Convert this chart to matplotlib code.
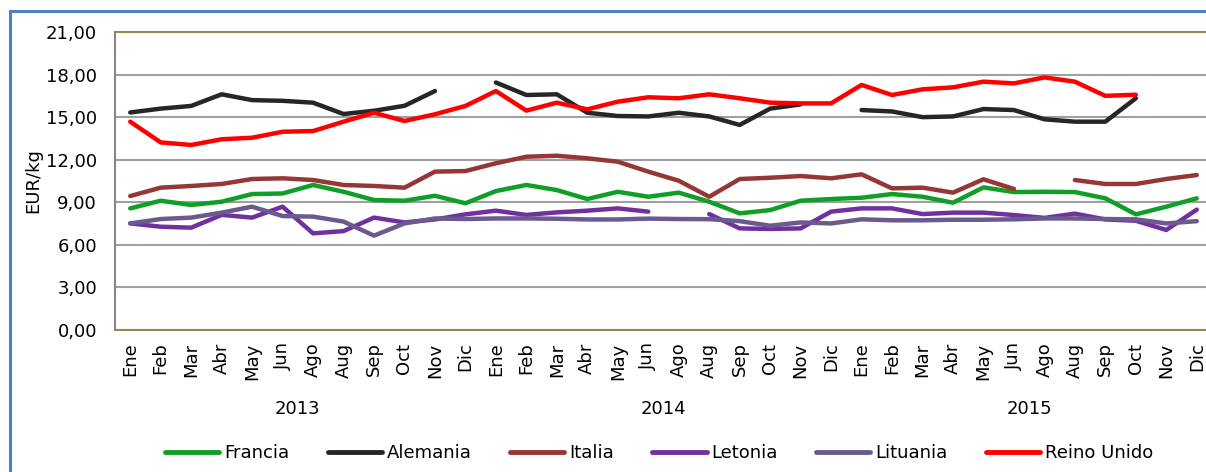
import numpy as np
import matplotlib
matplotlib.use("Agg")
import matplotlib.pyplot as plt
from matplotlib.patches import Rectangle
from matplotlib.transforms import blended_transform_factory

plt.rcParams["font.family"] = ["DejaVu Sans"]

nan = np.nan
MONTHS = ["Ene", "Feb", "Mar", "Abr", "May", "Jun", "Ago", "Aug", "Sep", "Oct", "Nov", "Dic"]
YEARS = ["2013", "2014", "2015"]

francia = [8.57, 9.11, 8.81, 9.04, 9.58, 9.62, 10.22, 9.74, 9.16, 9.11, 9.46, 8.93,
           9.79, 10.22, 9.86, 9.23, 9.74, 9.39, 9.68, 9.04, 8.22, 8.45, 9.11, 9.23,
           9.32, 9.58, 9.39, 8.97, 10.05, 9.72, 9.74, 9.72, 9.28, 8.15, 8.69, 9.28]
alemania = [15.33, 15.60, 15.79, 16.61, 16.20, 16.15, 16.02, 15.22, 15.45, 15.80, 16.84, nan,
            17.44, 16.56, 16.61, 15.31, 15.08, 15.05, 15.31, 15.05, 14.45, 15.60, 15.90, nan,
            15.50, 15.40, 15.00, 15.05, 15.57, 15.50, 14.85, 14.68, 14.68, 16.33, nan, nan]
italia = [9.44, 10.03, 10.15, 10.29, 10.64, 10.69, 10.57, 10.22, 10.15, 10.03, 11.16, 11.20,
          11.75, 12.21, 12.28, 12.10, 11.86, 11.16, 10.52, 9.39, 10.64, 10.73, 10.85, 10.69,
          10.97, 9.98, 10.03, 9.68, 10.62, 9.94, nan, 10.57, 10.29, 10.29, 10.64, 10.92]
letonia = [7.51, 7.28, 7.21, 8.11, 7.92, 8.69, 6.81, 6.97, 7.92, 7.58, 7.79, 8.15,
           8.41, 8.11, 8.29, 8.41, 8.57, 8.34, nan, 8.17, 7.16, 7.12, 7.16, 8.34,
           8.57, 8.57, 8.17, 8.27, 8.27, 8.10, 7.90, 8.20, 7.79, 7.70, 7.05, 8.48]
lituania = [7.51, 7.82, 7.92, 8.27, 8.69, 8.03, 7.99, 7.64, 6.65, 7.51, 7.86, 7.82,
            7.86, 7.86, 7.84, 7.79, 7.79, 7.85, 7.82, 7.81, 7.67, 7.35, 7.58, 7.51,
            7.80, 7.73, 7.73, 7.77, 7.77, 7.80, 7.86, 7.86, 7.82, 7.80, 7.51, 7.67]
reino_unido = [14.68, 13.22, 13.04, 13.44, 13.55, 13.97, 14.02, 14.68, 15.31, 14.73, 15.20, 15.79,
               16.84, 15.46, 16.02, 15.55, 16.09, 16.40, 16.33, 16.61, 16.33, 16.02, 15.97, 15.97,
               17.27, 16.56, 16.96, 17.10, 17.50, 17.38, 17.80, 17.50, 16.50, 16.58, nan, nan]

series = [("Francia", francia, "#109F26"),
          ("Alemania", alemania, "#262626"),
          ("Italia", italia, "#953735"),
          ("Letonia", letonia, "#7030A0"),
          ("Lituania", lituania, "#6A5A8E"),
          ("Reino Unido", reino_unido, "#FF0000")]

W, H = 1206, 472
FS = 13
fig = plt.figure(figsize=(W / 100, H / 100), dpi=100)

# outer chart border (cropped on right and bottom)
fig.patches.append(Rectangle((10 / W, -0.05), 1.2, 1 - 11 / H + 0.05, transform=fig.transFigure,
                             fill=False, edgecolor="#4F81BD", linewidth=2.2))

ax = fig.add_axes([115 / W, 1 - 330 / H, (1212 - 115) / W, (330 - 32) / H])
x = np.arange(36)
for name, vals, col in series:
    ax.plot(x, vals, color=col, linewidth=3.2, label=name, solid_capstyle="round",
            solid_joinstyle="round")

ax.set_xlim(-0.5, 35.5)
ax.set_ylim(0, 21)
ax.set_yticks(np.arange(0, 22, 3))
ax.set_yticklabels([f"{v:.2f}".replace(".", ",") for v in np.arange(0, 22, 3)], fontsize=FS)
ax.yaxis.grid(True, color="#A0A0A0", linewidth=1.5)
ax.set_axisbelow(True)
ax.set_xticks(x)
ax.set_xticklabels(MONTHS * 3, rotation=90, fontsize=FS)
ax.tick_params(axis="y", length=0, pad=13)
ax.tick_params(axis="x", length=0, pad=9)
ax.set_ylabel("EUR/kg", fontsize=FS)
ax.yaxis.set_label_coords(-(115 - 42) / 1097, 0.5)

ax.spines["right"].set_visible(False)
ax.spines["left"].set_color("#868686")
ax.spines["left"].set_linewidth(1.5)
for s in ["top", "bottom"]:
    ax.spines[s].set_color("#938953")
    ax.spines[s].set_linewidth(1.5)

trans = blended_transform_factory(ax.transData, ax.transAxes)
for i, yr in enumerate(YEARS):
    ax.text(i * 12 + 5.5, -(409 - 330) / 298, yr, transform=trans, ha="center", va="center",
            fontsize=FS)

leg = fig.legend(loc="center", bbox_to_anchor=(659 / W, 1 - 453 / H), ncol=6, frameon=False,
                 fontsize=FS, handlelength=3.0, handletextpad=0.25, columnspacing=2.15)
for ln in leg.get_lines():
    ln.set_linewidth(3.5)

fig.savefig("out.png", dpi=100)
